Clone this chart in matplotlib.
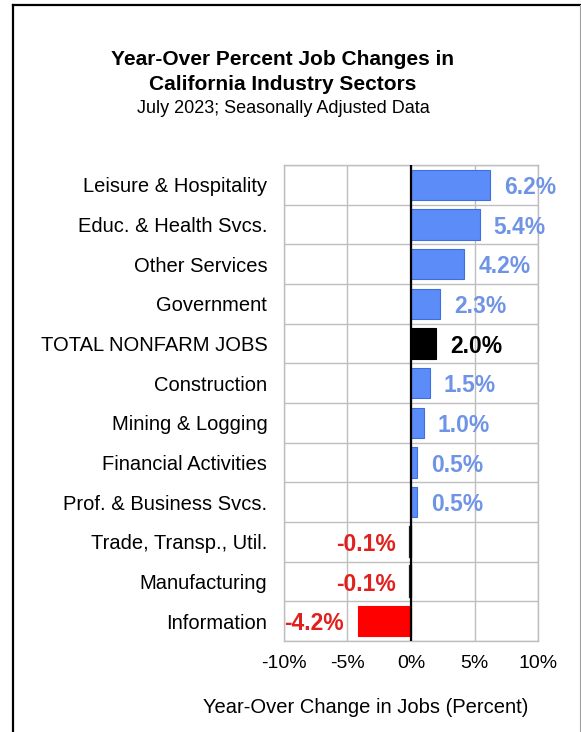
import numpy as np
import matplotlib.pyplot as plt
from matplotlib.lines import Line2D

plt.rcParams['font.family'] = ['Liberation Sans', 'DejaVu Sans']

# data, top to bottom
sectors = ["Leisure & Hospitality", "Educ. & Health Svcs.", "Other Services",
           "Government", "TOTAL NONFARM JOBS", "Construction", "Mining & Logging",
           "Financial Activities", "Prof. & Business Svcs.", "Trade, Transp., Util.",
           "Manufacturing", "Information"]
changes = [6.2, 5.4, 4.2, 2.3, 2.0, 1.5, 1.0, 0.5, 0.5, -0.1, -0.1, -4.2]
total_label = "TOTAL NONFARM JOBS"
xticks = [-10, -5, 0, 5, 10]

fig = plt.figure(figsize=(5.81, 7.32), dpi=100)
ax = fig.add_axes([0.4888, 0.1243, 0.4372, 0.6503])

ypos = np.arange(len(sectors))[::-1]
for y, name, v in zip(ypos, sectors, changes):
    lw = 0.8
    if name == total_label:
        fc, ec, tc = "black", "black", "black"
    elif v >= 0:
        fc, ec, tc = "#5b8cf7", "#3d6fe0", "#6f94e6"
    else:
        fc, ec, tc = "#ff0000", "#ff0000", "#e0201c"
        if abs(v) < 0.5:
            ec, lw = "#202020", 1.6
    ax.barh(y, v, height=0.76, color=fc, edgecolor=ec, linewidth=lw, zorder=3)
    off = 10 if v >= 0 else -10
    ax.annotate(f"{v:.1f}%", xy=(v, y), xytext=(off, -2), textcoords="offset points",
                ha="left" if v >= 0 else "right", va="center",
                fontsize=16.5, fontweight="bold", color=tc, zorder=4)

ax.set_xlim(-10, 10)
ax.set_ylim(-0.5, len(sectors) - 0.5)
ax.set_xticks(xticks)
ax.set_xticklabels([f"{t}%" for t in xticks], fontsize=14)
ax.set_yticks(ypos)
ax.set_yticklabels(sectors, fontsize=14.5)
ax.set_yticks(np.arange(len(sectors) + 1) - 0.5, minor=True)
ax.tick_params(axis="both", which="both", length=0)
ax.tick_params(axis="y", pad=12)
ax.tick_params(axis="x", pad=10)
ax.grid(which="minor", axis="y", color="#bebebe", linewidth=1, zorder=0)
ax.grid(which="major", axis="x", color="#bebebe", linewidth=1, zorder=0)
ax.axvline(0, color="black", linewidth=1.6, zorder=5)
for s in ax.spines.values():
    s.set_color("#bebebe")
    s.set_linewidth(1)

fig.text(0.630, 0.034, "Year-Over Change in Jobs (Percent)", ha="center", va="center",
         fontsize=14.5)

fig.text(0.487, 0.919, "Year-Over Percent Job Changes in", ha="center", va="center",
         fontsize=15, fontweight="bold")
fig.text(0.487, 0.885, "California Industry Sectors", ha="center", va="center",
         fontsize=15, fontweight="bold")
fig.text(0.487, 0.852, "July 2023; Seasonally Adjusted Data", ha="center", va="center",
         fontsize=13)

# frame around the chart
fig.add_artist(Line2D([0.0224, 0.0224], [-0.01, 0.993], color="black", linewidth=1.6))
fig.add_artist(Line2D([0.0224, 0.999], [0.993, 0.993], color="black", linewidth=1.6))
fig.add_artist(Line2D([0.9985, 0.9985], [-0.01, 0.993], color="#a0a0a0", linewidth=0.8))

fig.savefig("out.png", dpi=100)
